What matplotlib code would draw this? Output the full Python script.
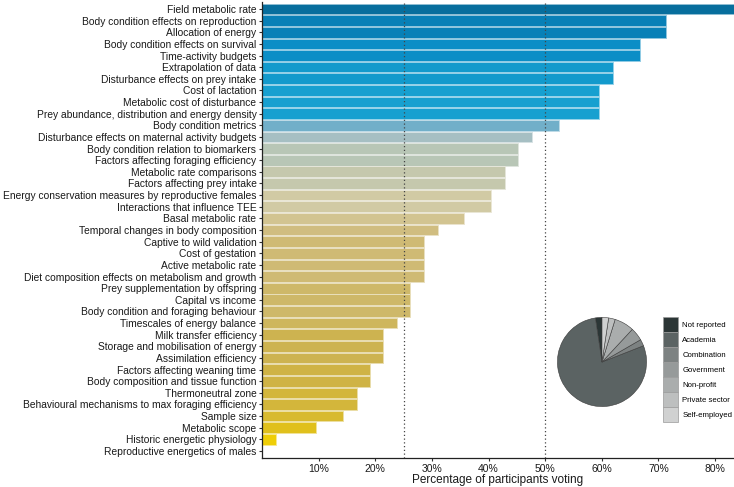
import numpy as np
import matplotlib
matplotlib.use("Agg")
import matplotlib.pyplot as plt
from matplotlib.colors import LinearSegmentedColormap, to_rgb
from matplotlib.patches import Patch

plt.rcParams["font.family"] = ["Liberation Sans", "DejaVu Sans"]

# ----------------------------
# Data
# ----------------------------
topics = [
    "Field metabolic rate",
    "Body condition effects on reproduction",
    "Allocation of energy",
    "Body condition effects on survival",
    "Time-activity budgets",
    "Extrapolation of data",
    "Disturbance effects on prey intake",
    "Cost of lactation",
    "Metabolic cost of disturbance",
    "Prey abundance, distribution and energy density",
    "Body condition metrics",
    "Disturbance effects on maternal activity budgets",
    "Body condition relation to biomarkers",
    "Factors affecting foraging efficiency",
    "Metabolic rate comparisons",
    "Factors affecting prey intake",
    "Energy conservation measures by reproductive females",
    "Interactions that influence TEE",
    "Basal metabolic rate",
    "Temporal changes in body composition",
    "Captive to wild validation",
    "Cost of gestation",
    "Active metabolic rate",
    "Diet composition effects on metabolism and growth",
    "Prey supplementation by offspring",
    "Capital vs income",
    "Body condition and foraging behaviour",
    "Timescales of energy balance",
    "Milk transfer efficiency",
    "Storage and mobilisation of energy",
    "Assimilation efficiency",
    "Factors affecting weaning time",
    "Body composition and tissue function",
    "Thermoneutral zone",
    "Behavioural mechanisms to max foraging efficiency",
    "Sample size",
    "Metabolic scope",
    "Historic energetic physiology",
    "Reproductive energetics of males",
]
pct_voting = [
    83.3, 71.4, 71.4, 66.7, 66.7, 61.9, 61.9, 59.5, 59.5, 59.5,
    52.4, 47.6, 45.2, 45.2, 42.9, 42.9, 40.5, 40.5, 35.7, 31.0,
    28.6, 28.6, 28.6, 28.6, 26.2, 26.2, 26.2, 23.8, 21.4, 21.4,
    21.4, 19.0, 19.0, 16.7, 16.7, 14.3, 9.5, 2.4, 0.0,
]

sectors = ["Not reported", "Academia", "Combination", "Government",
           "Non-profit", "Private sector", "Self-employed"]
sector_counts = [1, 33, 1, 2, 3, 1, 1]
sector_colors = ["#2c3636", "#5b6363", "#7d8282", "#969a9a",
                 "#aaadad", "#bdbfbf", "#d0d1d1"]

XMAX = 83.33

# colour scale on percentage (yellow -> beige/grey -> blue)
stops = [(0.0, "#f4d300"), (10.0, "#dfbf1e"), (20.0, "#cdb24a"),
         (30.0, "#cfbc7c"), (40.0, "#d4caa2"), (45.0, "#b9c6b6"),
         (48.0, "#a4bec4"), (52.4, "#70afc9"), (59.5, "#17a0d0"),
         (66.7, "#0b8ec6"), (71.4, "#0880b7"), (XMAX, "#076e9d")]
cmap = LinearSegmentedColormap.from_list(
    "votes", [(v / XMAX, c) for v, c in stops])


def lighten(c, f=0.55):
    r = np.array(to_rgb(c))
    return tuple(r + (1 - r) * f)


# ----------------------------
# Figure
# ----------------------------
fig = plt.figure(figsize=(7.34, 4.87), dpi=100)
ax = fig.add_axes([262 / 734, 1 - 458 / 487, 1 - 262 / 734, 456 / 487])

y = np.arange(len(topics))
fills = [cmap(v / XMAX) for v in pct_voting]
edges = [lighten(c) for c in fills]
ax.barh(y, pct_voting, height=0.92, color=fills, edgecolor=edges,
        linewidth=0.7, zorder=2)

for xv in (25, 50):
    ax.axvline(xv, color="#444444", linestyle=(0, (1, 2)), linewidth=0.9,
               zorder=3)

ax.set_ylim(len(topics) - 0.4, -0.6)
ax.set_xlim(0, XMAX)
ax.set_yticks(y)
ax.set_yticklabels(topics, fontsize=7.4, color="#1a1a1a")
ax.set_xticks(range(10, 90, 10))
ax.set_xticklabels([f"{t}%" for t in range(10, 90, 10)], fontsize=7.5,
                   color="#1a1a1a")
ax.set_xlabel("Percentage of participants voting", fontsize=8.5,
              color="#1a1a1a", labelpad=0)
ax.tick_params(axis="both", length=2.5, width=0.8, pad=1.5, color="#333333")
for s in ("top", "right"):
    ax.spines[s].set_visible(False)
for s in ("left", "bottom"):
    ax.spines[s].set_linewidth(0.9)
    ax.spines[s].set_color("#222222")

# ----------------------------
# Inset pie of participant sectors
# ----------------------------
pax = fig.add_axes([557 / 734, 1 - 407 / 487, 90 / 734, 90 / 487])
pax.pie(sector_counts, colors=sector_colors, startangle=90,
        counterclock=True, radius=1.0,
        wedgeprops=dict(edgecolor="#3a3a3a", linewidth=0.4))
pax.set_xlim(-1.01, 1.01)
pax.set_ylim(-1.01, 1.01)
pax.set_aspect("equal")

handles = [Patch(facecolor=c, edgecolor="#9a9a9a", linewidth=0.5)
           for c in sector_colors]
fig.legend(handles, sectors, loc="upper left",
           bbox_to_anchor=(663 / 734, 1 - 317 / 487),
           fontsize=5.6, frameon=False, handlelength=1.95, handleheight=2.6,
           labelspacing=0, handletextpad=0.55, borderpad=0, borderaxespad=0)

fig.savefig("out.png", dpi=100)
